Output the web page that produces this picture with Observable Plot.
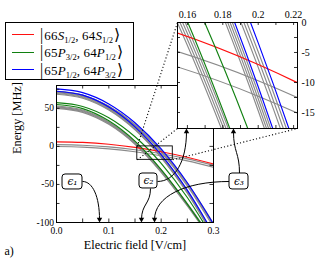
<!DOCTYPE html>
<html><head><meta charset="utf-8">
<script src="https://cdn.jsdelivr.net/npm/d3@7"></script>
<script src="https://cdn.jsdelivr.net/npm/@observablehq/plot@0.6"></script>
<style>
html,body{margin:0;padding:0;background:#fff;}
#fig{position:relative;width:318px;height:263px;overflow:hidden;font-family:"Liberation Serif","DejaVu Serif",serif;}
#fig svg{position:absolute;display:block;}
#legend{position:absolute;left:5px;top:22px;width:129px;height:58px;border:1px solid #000;background:#fff;box-sizing:border-box;}
.row{position:absolute;left:0;height:17px;width:127px;}
.sw{position:absolute;left:6px;top:8.5px;width:22px;height:1.2px;}
.lab{position:absolute;left:33px;top:0;white-space:nowrap;font-size:13px;line-height:17px;letter-spacing:0.15px;}
.lab sub{font-size:66%;vertical-align:-0.35em;line-height:0;letter-spacing:0;}
.ket{font-size:122%;padding:0 1px;}
</style></head>
<body><div id="fig"><div id="legend"></div></div>
<script>
// ---------- data ----------
const fieldSamples = [0, 0.05, 0.1, 0.15, 0.2, 0.25, 0.3];           // V/cm

const redState    = [6, 5.19, 2.75, -1.31, -7, -14.3, -23.25];
const redGrayA    = [2.3, 1.55, -0.7, -4.45, -9.7, -16.45, -24.7];
const redGrayB    = [-0.2, -0.96, -3.22, -7.0, -12.28, -19.1, -27.4];

const greenStateA = [55, 49.65, 33.6, 6.85, -30.6, -75.8, -125.6];
const greenStateB = [57.5, 52.5, 37.6, 12.6, -22.3, -67.1, -122];
const greenGrayA  = [53, 47.75, 32, 5.75, -31, -75.25, -124];
const greenGrayB  = [52, 46.75, 31, 4.75, -32, -76.25, -125];
const greenGrayC  = [51, 45.75, 30, 3.75, -33, -77.25, -126];
const greenGrayD  = [50, 44.75, 29, 2.75, -34, -78.25, -127];

const blueStateA  = [72.5, 67.3, 51.7, 25.7, -10.7, -57.5, -114.7];
const blueStateB  = [75.5, 70.6, 55.8, 31.1, -3.4, -47.8, -102.1];
const blueGrayA   = [72.4, 67.57, 53.08, 28.93, -4.88, -48.35, -101.5];
const blueGrayB   = [71.9, 67.02, 52.38, 27.98, -6.18, -50.1, -103.8];
const blueGrayC   = [71.4, 66.47, 51.68, 27.03, -7.48, -51.85, -106.1];
const blueGrayD   = [71.5, 66.3, 50.7, 24.7, -11.7, -58.5, -115.7];
const blueGrayE   = [70.5, 65.3, 49.7, 23.7, -12.7, -59.5, -116.7];
const blueGrayF   = [69.5, 64.3, 48.7, 22.7, -13.7, -60.5, -117.7];
const blueGrayG   = [68.5, 63.3, 47.7, 21.7, -14.7, -61.5, -118.7];

const xTicks = [0, 0.1, 0.2, 0.3];
const xTickLabels = ["0.0", "0.1", "0.2", "0.3"];
const xMinorTicks = [0.05, 0.1, 0.15, 0.2, 0.25];
const yTicks = [-100, -50, 0, 50];
const yTickLabels = ["-100", "-50", "0", "50"];
const yMinorTicks = [-75, -50, -25, 0, 25, 50, 75];

const insetX = [0.1544, 0.2222];
const insetY = [-17.67, 0];
const insetXTicks = [0.16, 0.18, 0.2, 0.22];
const insetXTickLabels = ["0.16", "0.18", "0.2", "0.22"];
const insetYTicks = [0, -5, -10, -15];
const insetYTickLabels = ["0", "-5", "-10", "-15"];
const insetXMinor = [0.16, 0.17, 0.18, 0.19, 0.2, 0.21, 0.22];
const insetYMinor = [-2.5, -5, -7.5, -10, -12.5, -15];

// zoom connectors: rectangle corner -> inset corner (main-axis units)
const connFromX = [0.1544, 0.1544, 0.2222];
const connFromY = [0, -17.67, -17.67];
const connToX   = [0.2312, 0.2312, 0.4605];
const connToY   = [162.8, 23.5, 23.5];

// field markers
const epsLabels = ["ϵ₁", "ϵ₂", "ϵ₃"];
const epsBoxX1 = [0.0115, 0.1586, 0.3306];
const epsBoxX2 = [0.0497, 0.1930, 0.3669];
const epsBoxY1 = [-56.6, -55.3, -56.6];
const epsBoxY2 = [-36.9, -35.6, -35.6];

const arrowFromX = [0.0497, 0.1796, 0.1930, 0.3497, 0.3306];
const arrowFromY = [-46.1, -55.3, -46.1, -35.6, -46.1];
const arrowTipX  = [0.0822, 0.1624, 0.2484, 0.3382, 0.1873];
const arrowTipY  = [-100, -100, 23.5, 23.5, -100];
const arrowShape = ["hv", "vv", "hv", "vv", "hv"];

const legendKets = [["66","S","1/2","64","S","1/2"], ["65","P","3/2","64","P","1/2"], ["65","P","1/2","64","P","3/2"]];

const xLabel = "Electric field [V/cm]";
const yLabel = "Energy [MHz]";
const panelLabel = "a)";

// ---------- styling ----------
const gray = "#8a8a8a", red = "#ff1010", green = "#108010", blue = "#0000ff";
const legendColors = [red, green, blue];
const font = "Liberation Serif, DejaVu Serif, serif";

function rowsOf(list) {
  const out = [];
  list.forEach((vals, k) => vals.forEach((E, i) => out.push({x: fieldSamples[i], E, k})));
  return out;
}
const grayRows = rowsOf([redGrayA, redGrayB, greenGrayA, greenGrayB, greenGrayC, greenGrayD,
  blueGrayA, blueGrayB, blueGrayC, blueGrayD, blueGrayE, blueGrayF, blueGrayG]);
const redRows = rowsOf([redState]);
const greenRows = rowsOf([greenStateA, greenStateB]);
const blueRows = rowsOf([blueStateA, blueStateB]);

function curveMarks(w) {
  const o = {x: "x", y: "E", z: "k", curve: "cardinal", clip: true, strokeWidth: w};
  return [
    Plot.line(grayRows, {...o, stroke: gray}),
    Plot.line(redRows, {...o, stroke: red}),
    Plot.line(greenRows, {...o, stroke: green}),
    Plot.line(blueRows, {...o, stroke: blue})
  ];
}

function bendCurve(kind) {
  return (context) => {
    let p = [];
    return {
      areaStart() {}, areaEnd() {},
      lineStart() { p = []; },
      point(x, y) { p.push([+x, +y]); },
      lineEnd() {
        const [[x0, y0], [x1, y1]] = p;
        context.moveTo(x0, y0);
        if (kind === "hv") context.bezierCurveTo(x0 + 0.6 * (x1 - x0), y0, x1, y0 + 0.4 * (y1 - y0), x1, y1);
        else context.bezierCurveTo(x0, y0 + 0.5 * (y1 - y0), x1, y0 + 0.5 * (y1 - y0), x1, y1);
      }
    };
  };
}

const headE = 3.9; // arrow head length in energy units (~3px)
const arrows = arrowFromX.map((x, i) => ({
  x1: x, y1: arrowFromY[i], tx: arrowTipX[i], ty: arrowTipY[i], shape: arrowShape[i],
  x2: arrowTipX[i], y2: arrowTipY[i] + (arrowTipY[i] < 0 ? headE : -headE)
}));
const eps = epsLabels.map((t, i) => ({t, x1: epsBoxX1[i], x2: epsBoxX2[i], y1: epsBoxY1[i], y2: epsBoxY2[i]}));
const conns = connFromX.map((x, i) => ({x1: x, y1: connFromY[i], x2: connToX[i], y2: connToY[i]}));

const tx = 3.5 / 523.3, ty = 3.5 / 0.7611;

const main = Plot.plot({
  width: 318, height: 263,
  marginLeft: 56, marginRight: 105, marginTop: 85, marginBottom: 41,
  x: {domain: [0, 0.3]},
  y: {domain: [-100, 80]},
  style: {fontFamily: font, fontSize: "9.5px", background: "white", overflow: "visible"},
  marks: [
    ...curveMarks(1.15),
    Plot.ruleX(xMinorTicks, {y1: -100, y2: -100 + ty, stroke: "black", strokeWidth: 0.8}),
    Plot.ruleX(xMinorTicks, {y1: 80, y2: 80 - ty, stroke: "black", strokeWidth: 0.8}),
    Plot.ruleY(yMinorTicks, {x1: 0, x2: tx, stroke: "black", strokeWidth: 0.8}),
    Plot.ruleY(yMinorTicks, {x1: 0.3, x2: 0.3 - tx, stroke: "black", strokeWidth: 0.8}),
    Plot.frame({stroke: "black", strokeWidth: 1}),
    Plot.rect([0], {x1: insetX[0], x2: insetX[1], y1: insetY[0], y2: insetY[1], stroke: "black", fill: "none", strokeWidth: 0.9}),
    Plot.link(conns, {x1: "x1", y1: "y1", x2: "x2", y2: "y2", stroke: "black", strokeWidth: 1.1, strokeDasharray: "1.1,2.2"}),
    Plot.link(arrows.filter(d => d.shape === "hv"), {x1: "x1", y1: "y1", x2: "x2", y2: "y2", curve: bendCurve("hv"), stroke: "black", strokeWidth: 1}),
    Plot.link(arrows.filter(d => d.shape === "vv"), {x1: "x1", y1: "y1", x2: "x2", y2: "y2", curve: bendCurve("vv"), stroke: "black", strokeWidth: 1}),
    Plot.dot(arrows.filter(d => d.ty < 0), {x: "tx", y: "ty", symbol: "triangle", r: 2, fill: "black", stroke: "none", rotate: 180, dy: -3.1}),
    Plot.dot(arrows.filter(d => d.ty > 0), {x: "tx", y: "ty", symbol: "triangle", r: 2, fill: "black", stroke: "none", rotate: 0, dy: 3.1}),
    Plot.rect(eps, {x1: "x1", x2: "x2", y1: "y1", y2: "y2", fill: "white", stroke: "black", strokeWidth: 1, rx: 3}),
    Plot.text(eps, {x: d => (d.x1 + d.x2) / 2, y: d => (d.y1 + d.y2) / 2, text: "t", fontFamily: "DejaVu Serif", fontStyle: "italic", fontSize: 10.5}),
    Plot.axisX({ticks: xTicks, tickFormat: d => xTickLabels[xTicks.indexOf(d)], tickSize: 0, tickPadding: 5, label: null, fontSize: 9.5}),
    Plot.axisY({ticks: yTicks, tickFormat: d => yTickLabels[yTicks.indexOf(d)], tickSize: 0, tickPadding: 2.5, label: null, fontSize: 9.5}),
    Plot.text([xLabel], {frameAnchor: "bottom", dy: 26, text: d => d, fontSize: 12.3}),
    Plot.text([yLabel], {frameAnchor: "left", dx: -39, rotate: -90, text: d => d, fontSize: 12.3}),
    Plot.text([panelLabel], {frameAnchor: "bottom-left", dx: -52, dy: 32, textAnchor: "start", text: d => d, fontSize: 12})
  ]
});
main.style.left = "0px"; main.style.top = "0px";

const itx = 3 / 1770, ity = 3 / 6;
const inset = Plot.plot({
  width: 142, height: 129,
  marginLeft: 1, marginRight: 21, marginTop: 22, marginBottom: 1,
  x: {domain: insetX},
  y: {domain: insetY},
  style: {fontFamily: font, fontSize: "10px", background: "transparent", overflow: "visible"},
  marks: [
    Plot.frame({fill: "white", stroke: "none"}),
    ...curveMarks(1.15),
    Plot.ruleX(insetXMinor, {y1: insetY[1], y2: insetY[1] - ity, stroke: "black", strokeWidth: 0.8}),
    Plot.ruleX(insetXMinor, {y1: insetY[0], y2: insetY[0] + ity, stroke: "black", strokeWidth: 0.8}),
    Plot.ruleY(insetYMinor, {x1: insetX[0], x2: insetX[0] + itx, stroke: "black", strokeWidth: 0.8}),
    Plot.ruleY(insetYMinor, {x1: insetX[1], x2: insetX[1] - itx, stroke: "black", strokeWidth: 0.8}),
    Plot.frame({stroke: "black", strokeWidth: 1}),
    Plot.axisX({anchor: "top", ticks: insetXTicks, tickFormat: d => insetXTickLabels[insetXTicks.indexOf(d)], tickSize: 0, tickPadding: 5, label: null, fontSize: 10}),
    Plot.axisY({anchor: "right", ticks: insetYTicks, tickFormat: d => insetYTickLabels[insetYTicks.indexOf(d)], tickSize: 0, tickPadding: 4, label: null, fontSize: 10})
  ]
});
inset.style.left = "176px"; inset.style.top = "0px";

const fig = document.getElementById("fig");
const legend = document.getElementById("legend");
fig.insertBefore(main, legend);
fig.insertBefore(inset, legend);

legendKets.forEach((k, i) => {
  const row = document.createElement("div");
  row.className = "row";
  row.style.top = (2.5 + i * 17.5) + "px";
  row.innerHTML = `<span class="sw" style="background:${legendColors[i]}"></span>` +
    `<span class="lab"><span class="ket">|</span>${k[0]}<i>${k[1]}</i><sub>${k[2]}</sub>, ${k[3]}<i>${k[4]}</i><sub>${k[5]}</sub><span class="ket">⟩</span></span>`;
  legend.appendChild(row);
});
</script></body></html>
